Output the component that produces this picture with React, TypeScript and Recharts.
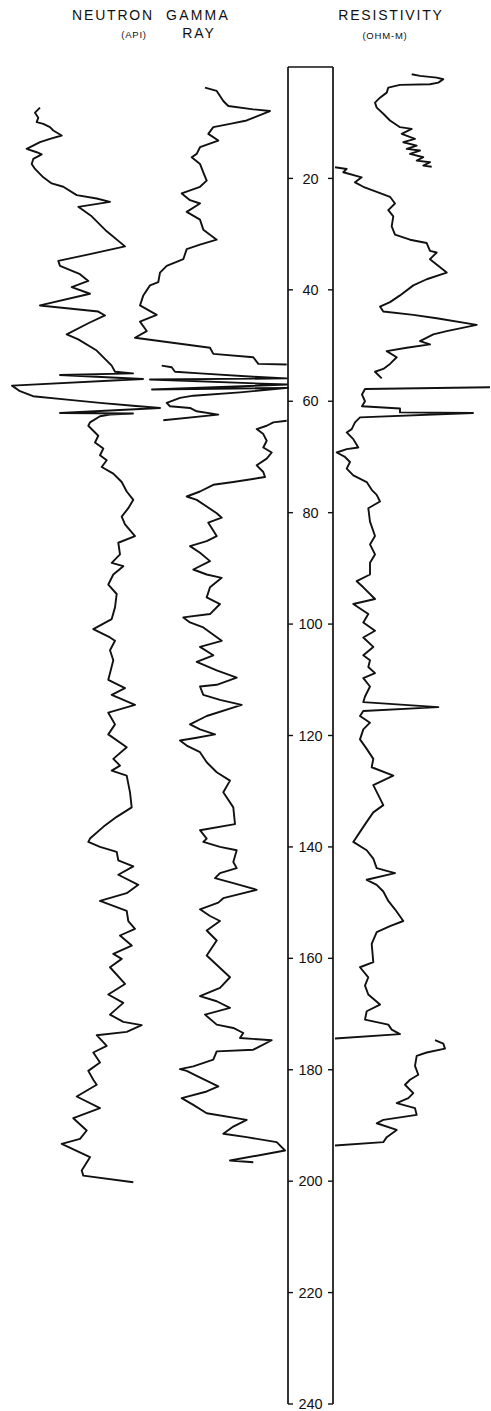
import React from 'react';
import { ComposedChart, Line, XAxis, YAxis, ReferenceLine, ReferenceDot } from 'recharts';

type Pt = [number, number | null];

// depth scale ticks (ft)
const depthTicks = [20, 40, 60, 80, 100, 120, 140, 160, 180, 200, 220, 240];

// Neutron log: [depth, reading (API)]
const neutron: Pt[] = [
  [7.3, 30], [8.2, 25], [9.1, 28.3], [9.9, 26.7], [10.2, 33.3], [10.8, 40], [11.4, 43.3], [12.3, 51.7],
  [12.9, 40], [13.5, 30], [14.7, 16.7], [15.3, 26.7], [15.7, 31.7], [16.5, 23.3], [17.4, 21.7], [18.3, 25],
  [19.8, 33.3], [20.9, 41.7], [21.5, 53.3], [23.0, 66.7], [23.6, 86.7], [24.2, 100], [25.1, 68.3], [26.8, 81.7],
  [29.5, 96.7], [32.2, 115], [33.6, 80], [34.8, 48.3], [35.7, 50], [37.2, 70], [38.4, 78.3], [39.5, 61.7],
  [40.7, 80], [42.8, 30], [43.3, 56.7], [43.9, 88.3], [44.6, 95], [46.0, 78.3], [48.0, 56.7], [48.9, 68.3],
  [50.9, 86.7], [53.6, 101.7], [54.7, 105], [55.0, 123], [55.3, 50], [56.0, 133], [57.2, 2], [58.2, 10],
  [59.1, 23], [59.7, 57], [60.3, 90], [60.8, 123], [61.2, 150], [62.1, 50], [62.2, 123], [62.4, 100],
  [62.7, 90], [63.8, 80], [64.4, 78.3], [65.3, 83.3], [66.2, 88.3], [67.4, 85], [68.5, 93.3], [69.7, 90],
  [70.6, 96.7], [71.8, 91.7], [73.0, 103.3], [74.5, 111.7], [76.2, 116.7], [77.7, 123.3], [79.2, 118.3],
  [80.7, 111.7], [82.1, 115], [84.2, 125], [85.4, 108.3], [87.5, 110], [89.0, 101.7], [89.6, 113.3],
  [91.1, 103.3], [92.9, 98.3], [94.6, 106.7], [97.0, 105], [99.1, 101.7], [100.9, 83.3], [102.4, 100],
  [103.0, 105], [104.7, 100], [106.5, 103.3], [110.0, 98.3], [111.5, 115], [112.7, 101.7], [114.5, 125],
  [115.9, 98.3], [118.0, 105], [119.8, 98.3], [122.1, 116.7], [124.2, 103.3], [125.4, 110], [126.3, 101.7],
  [127.2, 116.7], [130.2, 120], [132.9, 121.7], [134.6, 106.7], [136.4, 93.3], [138.5, 80], [139.1, 78.3],
  [140.0, 90], [140.9, 106.7], [142.4, 108.3], [143.5, 123.3], [145.0, 108.3], [146.8, 128.3], [148.3, 116.7],
  [149.7, 90], [151.5, 116.7], [153.3, 118.3], [154.7, 125], [155.9, 110], [157.7, 121.7], [159.2, 103.3],
  [160.1, 111.7], [161.6, 100], [164.6, 115], [166.5, 98.3], [168.0, 113.3], [170.1, 100], [171.4, 113.3],
  [172.0, 131.7], [173.2, 116.7], [173.8, 86.7], [175.7, 96.7], [176.9, 83.3], [178.7, 90], [180.2, 78.3],
  [181.8, 83.3], [182.7, 86.7], [184.8, 66.7], [186.9, 90], [188.7, 63.3], [190.9, 76.7], [192.4, 70],
  [193.3, 51.7], [195.7, 80], [198.1, 71.7], [199.0, 73.3], [200.2, 123.3],
];

// Gamma ray log: [depth, reading (API)]; null = gap in the trace
const gammaRay: Pt[] = [
  [3.7, 65], [4.3, 76.7], [5.2, 80], [6.1, 83.3], [7.0, 88.3], [7.6, 113.3], [7.9, 130], [9.6, 106.7],
  [10.2, 90], [10.8, 73.3], [12.0, 68.3], [13.2, 78.3], [14.4, 60], [15.6, 56.7], [16.2, 51.7], [17.4, 60],
  [18.9, 63.3], [20.4, 66.7], [21.5, 60], [22.7, 41.7], [23.9, 50], [24.5, 60], [26.0, 46.7], [27.4, 60],
  [29.2, 63.3], [31.0, 76.7], [31.9, 60], [32.7, 46.7], [34.5, 43.3], [35.7, 26.7], [36.9, 20], [38.6, 18.3],
  [39.2, 10], [41.0, 3.3], [42.8, 0], [44.5, 16.7], [45.7, 0], [47.4, 6.7], [48.6, -5], [50.4, 70],
  [51.5, 73.3], [52.1, 113.3], [53.3, 118.3], [53.4, 146.7], [53.5, null],
  [53.6, 21.7], [53.9, 31.7], [54.7, 35], [55.0, 60], [55.6, 113.3], [55.9, 146.7], [56.1, 10], [57.0, 147],
  [57.9, 12], [57.6, 148], [58.4, 100], [59.0, 53.3], [59.4, 40], [60.3, 26.7], [60.9, 30], [61.2, 50],
  [61.8, 56.7], [62.4, 78.3], [63.4, 23.3], [63.45, null],
  [63.5, 146.7], [63.8, 133.3], [64.4, 126.7], [65.0, 116.7], [65.9, 123.3], [67.1, 126.7], [68.3, 123.3],
  [69.2, 131.7], [70.3, 126.7], [71.5, 116.7], [72.7, 123.3], [73.6, 125], [74.5, 93.3], [75.0, 73.3],
  [76.2, 60], [77.1, 46.7], [77.7, 56.7], [78.9, 66.7], [80.1, 76.7], [80.9, 81.7], [81.8, 68.3], [84.2, 76.7],
  [85.1, 66.7], [86.0, 50], [87.2, 60], [88.7, 70], [90.2, 53.3], [91.1, 66.7], [91.7, 81.7], [93.4, 70],
  [95.2, 66.7], [96.4, 80], [98.2, 70], [98.8, 43.3], [99.7, 50], [100.6, 63.3], [103.0, 81.7], [104.1, 60],
  [105.6, 73.3], [106.8, 56.7], [108.3, 76.7], [109.6, 96.7], [110.9, 76.7], [111.2, 60], [112.7, 63.3],
  [113.6, 80], [114.5, 101.7], [116.5, 66.7], [118.0, 50], [118.9, 60], [119.8, 75], [120.4, 56.7],
  [120.9, 40], [121.8, 46.7], [123.0, 60], [124.8, 66.7], [126.6, 76.7], [128.1, 90], [130.2, 83.3],
  [132.9, 93.3], [135.9, 95], [137.0, 60], [138.5, 66.7], [139.1, 63.3], [140.0, 80], [140.6, 96.7],
  [142.7, 93.3], [143.8, 96.7], [144.7, 80], [145.6, 75], [146.5, 93.3], [147.7, 116.7], [149.2, 83.3],
  [150.0, 78.3], [151.2, 60], [152.4, 70], [153.3, 80], [155.0, 66.7], [156.8, 76.7], [159.5, 66.7],
  [163.4, 90], [165.3, 80], [166.8, 60], [167.7, 76.7], [168.9, 90], [170.1, 65], [171.9, 76.7], [172.5, 93.3],
  [173.4, 103.3], [174.3, 100], [174.7, 131.7], [176.4, 113.3], [176.7, 76.7], [178.2, 73.3], [179.4, 53.3],
  [179.9, 40], [180.2, 46.7], [181.1, 56.7], [183.0, 78.3], [183.9, 66.7], [185.1, 41.7], [186.3, 53.3],
  [187.8, 66.7], [189.0, 106.7], [190.2, 93.3], [191.5, 83.3], [192.1, 106.7], [193.0, 136.7], [194.5, 145],
  [196.3, 90], [196.6, 113.3],
];

// Resistivity log: [depth, reading (ohm-m)]; null = gap in the trace
const resistivity: Pt[] = [
  [1.3, 78.7], [1.6, 87], [1.9, 103.7], [2.2, 110.3], [2.8, 105.3], [3.1, 97], [3.2, 67], [3.7, 55.3],
  [4.6, 53.7], [5.5, 47], [6.4, 42], [7.3, 43.7], [8.4, 50.3], [9.6, 57], [10.8, 67], [11.1, 78.7],
  [12.0, 68.7], [12.9, 82], [13.5, 70.3], [14.1, 83.7], [14.7, 73.7], [15.0, 87], [15.6, 77], [16.2, 90.3],
  [16.8, 83.7], [17.1, 97], [17.7, 90.3], [17.9, 98.7], [17.95, null],
  [18.0, 2], [18.3, 13.7], [18.9, 10.3], [19.8, 28.7], [20.7, 22], [21.5, 30.3], [22.4, 43.7], [23.3, 57],
  [24.5, 62], [25.7, 55.3], [26.8, 60.3], [28.6, 58.7], [30.1, 62], [31.0, 77], [31.6, 93.7], [33.0, 97],
  [33.3, 103.7], [34.5, 97], [36.9, 113.7], [38.1, 93.7], [39.2, 80.3], [41.0, 67], [42.2, 57], [43.0, 47],
  [43.9, 50.3], [44.5, 80.3], [45.1, 103.7], [46.3, 143.7], [47.4, 113.7], [48.0, 100.3], [49.2, 87],
  [49.8, 97], [50.4, 73.7], [51.0, 53.7], [52.1, 63.7], [53.3, 57], [54.2, 50.3], [54.7, 42], [55.9, 48.7],
  [56.5, null],
  [57.5, 157], [57.8, 32], [58.8, 29], [60.0, 32], [60.9, 29], [61.3, 67], [62.0, 67], [62.1, 140],
  [62.9, 27], [63.8, 22], [65.0, 18.7], [65.6, 13.7], [66.8, 20.3], [68.3, 25.3], [68.6, 13.7], [69.2, 3.7],
  [70.0, 12], [70.9, 17], [72.1, 13.7], [73.3, 20.3], [74.5, 33.7], [75.9, 38.7], [76.8, 43.7], [78.0, 47],
  [79.2, 35.3], [81.6, 37], [84.2, 42], [85.7, 37], [87.5, 42], [89.0, 37], [91.1, 37], [92.3, 23.7],
  [93.4, 30.3], [95.5, 42], [96.4, 20.3], [98.2, 35.3], [99.7, 30.3], [101.2, 42], [102.4, 30.3],
  [104.1, 40.3], [105.6, 30.3], [106.5, 37], [107.7, 35.3], [108.8, 42], [109.7, 30.3], [111.2, 37],
  [113.0, 32], [114.0, 30.3], [114.9, 105.3], [115.6, 30.3], [116.5, 27], [117.7, 37], [118.9, 30.3],
  [120.7, 27], [122.4, 33.7], [124.2, 40.3], [125.7, 38.7], [127.2, 60.3], [128.9, 40.3], [132.5, 50.3],
  [133.8, 40.3], [135.5, 33.7], [137.3, 27], [139.1, 20.3], [140.6, 33.7], [142.1, 40.3], [143.8, 43.7],
  [144.7, 62], [145.9, 33.7], [146.8, 43.7], [148.0, 50.3], [149.7, 55.3], [151.2, 62], [153.3, 70.3],
  [154.2, 57], [155.3, 43.7], [157.4, 38.7], [160.7, 40.3], [161.6, 27], [163.4, 35.3], [164.9, 32],
  [166.5, 35.3], [168.3, 47], [169.5, 33.7], [171.0, 32], [171.9, 55.3], [172.8, 58.7], [173.6, 67],
  [174.4, 2], [174.5, null],
  [174.7, 102], [175.3, 110.3], [176.2, 112], [176.9, 93.7], [177.5, 83.7], [179.3, 82], [180.9, 85.3],
  [181.8, 77], [182.7, 72], [184.2, 80.3], [185.1, 75.3], [186.0, 63.7], [186.9, 82], [188.1, 83.7],
  [189.0, 50.3], [189.6, 43.7], [190.8, 63.7], [192.1, 53.7], [193.0, 50.3], [193.6, 2],
];

type Row = { depth: number; value: number };

// split a trace at its null readings into continuous pieces
const toSegments = (pts: Pt[]): Row[][] => {
  const segs: Row[][] = [];
  let cur: Row[] = [];
  pts.forEach(([depth, value]) => {
    if (value === null) {
      if (cur.length) segs.push(cur);
      cur = [];
    } else {
      cur.push({ depth, value });
    }
  });
  if (cur.length) segs.push(cur);
  return segs;
};

const traces = [
  { id: 'neu', segs: toSegments(neutron) },
  { id: 'gr', segs: toSegments(gammaRay) },
  { id: 'res', segs: toSegments(resistivity) },
];

const INK = '#111';
const FONT = '"Liberation Sans", Arial, Helvetica, sans-serif';

// depth column expressed on the resistivity track scale (column sits left of its zero)
const COL_L = -45;
const COL_R = 0;
const TICK_LEN = 5;

const titleStyle = (center: number, top: number, size: number, spacing: number): React.CSSProperties => ({
  position: 'absolute',
  left: center - 100,
  width: 200,
  top,
  textAlign: 'center',
  fontSize: size,
  lineHeight: `${size}px`,
  letterSpacing: spacing,
  color: INK,
  fontFamily: FONT,
  whiteSpace: 'nowrap',
});

export default function App() {
  return (
    <div style={{ position: 'absolute', left: 0, top: 0, width: 491, height: 1411, background: '#fff' }}>
      <div style={titleStyle(113, 8, 14, 1.8)}>NEUTRON</div>
      <div style={titleStyle(134, 30, 9.5, 0.8)}>(API)</div>
      <div style={titleStyle(198, 8, 14, 2.2)}>GAMMA</div>
      <div style={titleStyle(199, 26, 14, 2)}>RAY</div>
      <div style={titleStyle(391, 8, 14, 1.8)}>RESISTIVITY</div>
      <div style={titleStyle(385, 31, 9.5, 0.8)}>(OHM-M)</div>
      <ComposedChart
        width={491}
        height={1411}
        layout="vertical"
        margin={{ top: 67, right: 0, bottom: 7, left: 0 }}
        style={{ fontFamily: FONT }}
      >
        <YAxis type="number" dataKey="depth" domain={[0, 240]} hide allowDataOverflow />
        <XAxis xAxisId="neu" type="number" domain={[-10, 481]} hide allowDataOverflow />
        <XAxis xAxisId="gr" type="number" domain={[-140, 351]} hide allowDataOverflow />
        <XAxis xAxisId="res" type="number" domain={[-333, 158]} hide allowDataOverflow />

        <ReferenceLine xAxisId="res" segment={[{ x: COL_L, y: 0 }, { x: COL_L, y: 240 }]} stroke={INK} strokeWidth={1.7} />
        <ReferenceLine xAxisId="res" segment={[{ x: COL_R, y: 0 }, { x: COL_R, y: 240 }]} stroke={INK} strokeWidth={1.7} />
        <ReferenceLine xAxisId="res" segment={[{ x: COL_L, y: 0 }, { x: COL_R, y: 0 }]} stroke={INK} strokeWidth={1.7} />
        {depthTicks.map((d) => (
          <ReferenceLine key={`tl${d}`} xAxisId="res" segment={[{ x: COL_L, y: d }, { x: COL_L + TICK_LEN, y: d }]} stroke={INK} strokeWidth={1.4} />
        ))}
        {depthTicks.map((d) => (
          <ReferenceLine key={`tr${d}`} xAxisId="res" segment={[{ x: COL_R - TICK_LEN, y: d }, { x: COL_R, y: d }]} stroke={INK} strokeWidth={1.4} />
        ))}
        {depthTicks.map((d) => (
          <ReferenceDot
            key={`lb${d}`}
            xAxisId="res"
            x={(COL_L + COL_R) / 2}
            y={d}
            r={0}
            fill="none"
            stroke="none"
            label={{ value: String(d), position: 'center', fontSize: 14.5, fill: INK, fontFamily: FONT }}
          />
        ))}

        {traces.map((t) =>
          t.segs.map((seg, i) => (
            <Line
              key={`${t.id}-${i}`}
              xAxisId={t.id}
              data={seg}
              dataKey="value"
              type="linear"
              stroke={INK}
              strokeWidth={1.9}
              strokeLinejoin="round"
              dot={false}
              activeDot={false}
              isAnimationActive={false}
            />
          ))
        )}
      </ComposedChart>
    </div>
  );
}
